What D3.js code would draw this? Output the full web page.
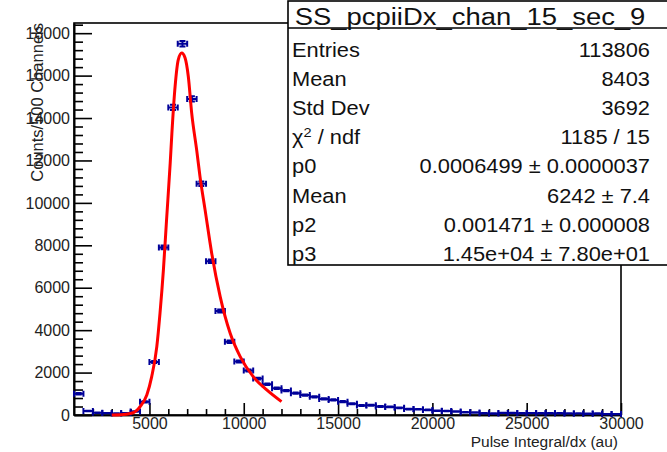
<!DOCTYPE html>
<html>
<head>
<meta charset="utf-8">
<script src="https://cdn.jsdelivr.net/npm/d3@7"></script>
<style>
body{margin:0;background:#fff;}
svg{display:block;font-family:"Liberation Sans",Arial,sans-serif;}
</style>
</head>
<body>
<svg id="svg" width="667" height="452"></svg>
<script>
    // histogram bins (500 wide, 1000..30000)
    var binCenters = d3.range(1250, 30000, 500);
    var counts = [1000, 190, 110, 90, 70, 90, 160, 620, 2500, 7900,
                  14500, 17500, 14900, 10900, 7250, 4900, 3450, 2520, 2100, 1720,
                  1450, 1260, 1150, 1030, 940, 860, 760, 710, 630, 530,
                  450, 460, 400, 380, 340, 280, 270, 240, 200, 190,
                  160, 130, 115, 85, 70, 100, 95, 85, 90, 80,
                  85, 80, 75, 75, 60, 70, 45, 45];
    // fit curve
    var fitX = [3000, 3500, 4000, 4330, 4500, 4860, 5120, 5390, 5560, 5740, 5900, 6100, 6190, 6360, 6530,
                6710, 6890, 7060, 7240, 7510, 7680, 7950, 8300, 8750, 9280, 9810, 10500, 11220, 12000];
    var fitY = [0, 10, 70, 220, 390, 940, 1810, 3220, 4800, 6840, 9100, 11870, 13290, 15490, 16750,
                17060, 16830, 15960, 14230, 12450, 11240, 9670, 7630, 5580, 3850, 2750, 1810, 1180, 630];
    var xTickValues = [5000, 10000, 15000, 20000, 25000, 30000];
    var yTickValues = [0, 2000, 4000, 6000, 8000, 10000, 12000, 14000, 16000, 18000];
    var histTitle = 'SS_pcpiiDx_chan_15_sec_9';
    var statLabels = ['Entries', 'Mean', 'Std Dev', 'chi2', 'p0', 'Mean', 'p2', 'p3'];
    var statValues = ['113806', '8403', '3692', '1185 / 15', '0.0006499 \u00b1 0.0000037',
                      '6242 \u00b1 7.4', '0.001471 \u00b1 0.000008', '1.45e+04 \u00b1 7.80e+01'];

    var svg = d3.select('#svg');
    var x = d3.scaleLinear().domain([1000, 30000]).range([74, 621]);
    var y = d3.scaleLinear().domain([0, 18480]).range([415, 23]);
    var halfBin = 250;

    // frame
    svg.append('rect')
        .attr('x', 74).attr('y', 23)
        .attr('width', 621 - 74).attr('height', 415 - 23)
        .attr('fill', 'none').attr('stroke', '#000').attr('stroke-width', 1.6);

    // axes, ticks pointing inwards like ROOT
    svg.append('g').attr('transform', 'translate(0,415)')
        .call(d3.axisBottom(x).tickValues(xTickValues).tickSize(-12).tickSizeOuter(0)
            .tickPadding(3).tickFormat(d3.format('d')));
    svg.append('g').attr('transform', 'translate(0,415)')
        .call(d3.axisBottom(x).tickValues(d3.range(2000, 30000, 1000).filter(function (d) { return d % 5000; }))
            .tickSize(-6).tickSizeOuter(0).tickFormat(''));
    svg.append('g').attr('transform', 'translate(74,0)')
        .call(d3.axisLeft(y).tickValues(yTickValues).tickSize(-18).tickSizeOuter(0)
            .tickPadding(4).tickFormat(d3.format('d')));
    svg.append('g').attr('transform', 'translate(74,0)')
        .call(d3.axisLeft(y).tickValues(d3.range(400, 18480, 400).filter(function (d) { return d % 2000; }))
            .tickSize(-9).tickSizeOuter(0).tickFormat(''));
    svg.selectAll('.domain').attr('stroke-width', 1.6);
    svg.selectAll('.tick line').attr('stroke', '#000').attr('stroke-width', 1.6);
    svg.selectAll('.tick text').attr('font-size', 16).attr('font-family', '"Liberation Sans",Arial,sans-serif')
        .attr('fill', '#222');

    // axis titles
    svg.append('text')
        .attr('transform', 'translate(43,23) rotate(-90)')
        .attr('text-anchor', 'end').attr('font-size', 16.5).attr('fill', '#222')
        .text('Counts/500 Channels');
    svg.append('text')
        .attr('x', 618).attr('y', 447)
        .attr('text-anchor', 'end').attr('font-size', 15.5).attr('fill', '#222')
        .text('Pulse Integral/dx (au)');

    // data points with error bars
    var blue = '#000099';
    var pts = svg.append('g').attr('stroke', blue).attr('stroke-width', 2).attr('fill', 'none');
    binCenters.forEach(function (c, i) {
        var v = counts[i], e = Math.sqrt(v);
        var x0 = x(c - halfBin), x1 = x(c + halfBin), xc = x(c), yv = y(v);
        var yt = y(v + e), yb = y(v - e);
        pts.append('path').attr('d',
            'M' + x0 + ',' + yv + 'H' + x1 +
            'M' + x0 + ',' + (yv - 3) + 'V' + (yv + 3) +
            'M' + x1 + ',' + (yv - 3) + 'V' + (yv + 3) +
            'M' + xc + ',' + yt + 'V' + yb +
            'M' + (xc - 3) + ',' + yt + 'H' + (xc + 3) +
            'M' + (xc - 3) + ',' + yb + 'H' + (xc + 3));
    });

    // fit function
    var line = d3.line()
        .x(function (d) { return x(d[0]); })
        .y(function (d) { return y(d[1]); })
        .curve(d3.curveMonotoneX);
    svg.append('path')
        .datum(fitX.map(function (d, i) { return [d, fitY[i]]; }))
        .attr('d', line)
        .attr('fill', 'none').attr('stroke', '#ff0000').attr('stroke-width', 3);

    // stats box
    var box = svg.append('g');
    box.append('rect')
        .attr('x', 288).attr('y', 1).attr('width', 420).attr('height', 264)
        .attr('fill', '#fff').attr('stroke', '#000').attr('stroke-width', 1.6);
    box.append('line')
        .attr('x1', 288).attr('x2', 667).attr('y1', 28).attr('y2', 28)
        .attr('stroke', '#000').attr('stroke-width', 1.6);
    box.append('text')
        .attr('transform', 'translate(470,25) scale(1.12,1)')
        .attr('text-anchor', 'middle').attr('font-size', 24.5).attr('fill', '#111')
        .text(histTitle);
    statLabels.forEach(function (lab, i) {
        var yb = 57 + i * 29.1;
        var t = box.append('text')
            .attr('transform', 'translate(292,' + yb + ') scale(1.12,1)')
            .attr('font-size', 19.5).attr('fill', '#111');
        if (lab == 'chi2') {
            t.append('tspan').text('\u03c7');
            t.append('tspan').attr('dy', -7).attr('font-size', 13).text('2');
            t.append('tspan').attr('dy', 7).text(' / ndf');
        } else {
            t.text(lab);
        }
        box.append('text')
            .attr('transform', 'translate(650,' + yb + ') scale(1.12,1)')
            .attr('text-anchor', 'end').attr('font-size', 19.5).attr('fill', '#111')
            .text(statValues[i]);
    });
</script>
</body>
</html>
